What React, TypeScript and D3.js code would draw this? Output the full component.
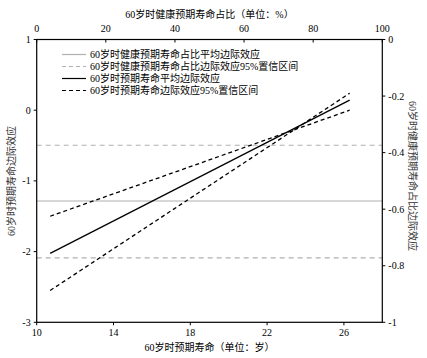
import React from "react";
import * as d3 from "d3";

const xTicks = [10, 14, 18, 22, 26];
const topTicks = [0, 20, 40, 60, 80, 100];
const leftTicks = [1, 0, -1, -2, -3];
const rightTicks = [0, -0.2, -0.4, -0.6, -0.8, -1];

const lifeX = [10.7, 26.3];
const lifeAvg = [-2.025, 0.142];
const lifeCiA = [-1.5, 0.0];
const lifeCiB = [-2.55, 0.24];
const shareAvg = -0.571;
const shareCi = [-0.374, -0.772];

const legendLabels = [
  "60岁时健康预期寿命占比平均边际效应",
  "60岁时健康预期寿命占比边际效应95%置信区间",
  "60岁时预期寿命平均边际效应",
  "60岁时预期寿命边际效应95%置信区间",
];

const W = 427, H = 358;
const L = 36.7, R = 382.3, T = 39.5, B = 322.3;
const FONT = "'Liberation Serif', 'Times New Roman', 'Noto Sans CJK SC', serif";

export default function App() {
  const x = d3.scaleLinear().domain([10, 28]).range([L, R]);
  const xTop = d3.scaleLinear().domain([0, 100]).range([L, R]);
  const yL = d3.scaleLinear().domain([-3, 1]).range([B, T]);
  const yR = d3.scaleLinear().domain([-1, 0]).range([B, T]);

  const line = d3.line<[number, number]>().x(d => x(d[0])).y(d => yL(d[1]));
  const pts = (vals: number[]) => lifeX.map((v, i) => [v, vals[i]] as [number, number]);

  const gray = "#b0b0b0";
  const legendStyles = [
    { stroke: gray, dash: undefined },
    { stroke: gray, dash: "4,3" },
    { stroke: "#000", dash: undefined },
    { stroke: "#000", dash: "4,3" },
  ];

  return (
    <svg width={W} height={H} style={{ position: "absolute", left: 0, top: 0, display: "block" }} fontFamily={FONT}>
      <rect width={W} height={H} fill="#fff" />
      {/* share horizontal lines */}
      <line x1={L} x2={R} y1={yR(shareAvg)} y2={yR(shareAvg)} stroke={gray} strokeWidth={1.2} />
      {shareCi.map((v, i) => (
        <line key={i} x1={L} x2={R} y1={yR(v)} y2={yR(v)} stroke={gray} strokeWidth={1.2} strokeDasharray="5,4" />
      ))}
      {/* life expectancy lines */}
      <path d={line(pts(lifeAvg)) || ""} stroke="#000" strokeWidth={1.3} fill="none" />
      <path d={line(pts(lifeCiA)) || ""} stroke="#000" strokeWidth={1.3} fill="none" strokeDasharray="4,3" />
      <path d={line(pts(lifeCiB)) || ""} stroke="#000" strokeWidth={1.3} fill="none" strokeDasharray="4,3" />

      {/* frame */}
      <rect x={L} y={T} width={R - L} height={B - T} fill="none" stroke="#000" strokeWidth={1.2} />

      {/* bottom axis */}
      {xTicks.map(t => (
        <g key={t}>
          <line x1={x(t)} x2={x(t)} y1={B} y2={B + 3} stroke="#000" />
          <text x={x(t)} y={B + 14} fontSize={10} textAnchor="middle">{t}</text>
        </g>
      ))}
      <text x={(L + R) / 2} y={351} fontSize={10} textAnchor="middle">60岁时预期寿命（单位：岁）</text>

      {/* top axis */}
      {topTicks.map(t => (
        <g key={t}>
          <line x1={xTop(t)} x2={xTop(t)} y1={T} y2={T + 3} stroke="#000" />
          <text x={xTop(t)} y={32} fontSize={10} textAnchor="middle">{t}</text>
        </g>
      ))}
      <text x={(L + R) / 2} y={18} fontSize={10} textAnchor="middle">60岁时健康预期寿命占比（单位：%）</text>

      {/* left axis */}
      {leftTicks.map(t => (
        <g key={t}>
          <line x1={L - 3} x2={L} y1={yL(t)} y2={yL(t)} stroke="#000" />
          <text x={L - 6} y={yL(t) + 3.5} fontSize={10} textAnchor="end">{t}</text>
        </g>
      ))}
      <text transform={`translate(15,${(T + B) / 2}) rotate(-90)`} fontSize={10} textAnchor="middle" fill="#333">60岁时预期寿命边际效应</text>

      {/* right axis */}
      {rightTicks.map(t => (
        <g key={t}>
          <line x1={R} x2={R + 3} y1={yR(t)} y2={yR(t)} stroke="#000" />
          <text x={R + 6} y={yR(t) + 3.5} fontSize={10} textAnchor="start">{t}</text>
        </g>
      ))}
      <text transform={`translate(409,${(T + B) / 2 - 5}) rotate(90)`} fontSize={10} textAnchor="middle" fill="#333">60岁时健康预期寿命占比边际效应</text>

      {/* legend */}
      {legendLabels.map((lab, i) => {
        const yy = 54.5 + i * 12;
        const st = legendStyles[i];
        return (
          <g key={i}>
            <line x1={62} x2={86} y1={yy} y2={yy} stroke={st.stroke} strokeWidth={1.2} strokeDasharray={st.dash} />
            <text x={90} y={yy + 3.5} fontSize={10}>{lab}</text>
          </g>
        );
      })}
    </svg>
  );
}
